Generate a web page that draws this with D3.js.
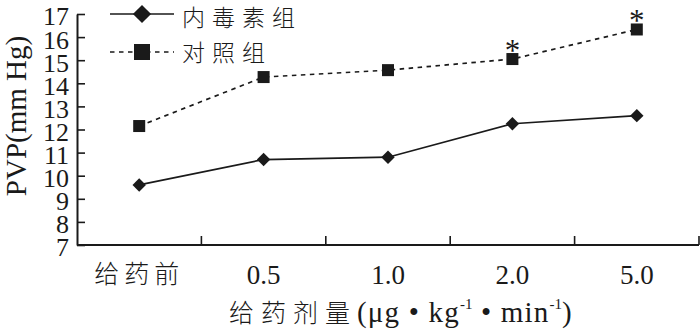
<!DOCTYPE html>
<html><head><meta charset="utf-8">
<script src="https://cdn.jsdelivr.net/npm/d3@7/dist/d3.min.js"></script>
<style>
html,body{margin:0;padding:0;background:#fff;}
svg{display:block;}
text{fill:#1a1a1a;}
</style></head>
<body>
<svg id="chart" width="700" height="330"></svg>
<script>
const categories = ["给药前", "0.5", "1.0", "2.0", "5.0"];
const endotoxinValues = [9.6, 10.7, 10.8, 12.25, 12.6];
const controlValues = [12.15, 14.27, 14.57, 15.05, 16.33];
const controlSignificant = [false, false, false, true, true];
const seriesNames = ["内毒素组", "对照组"];
const yTicks = [7, 8, 9, 10, 11, 12, 13, 14, 15, 16, 17];
const yTitle = "PVP(mm Hg)";

const SERIF = "'Liberation Serif','Times New Roman','Noto Sans CJK SC',serif";
const CJK = "'Noto Sans CJK SC','Liberation Serif',serif";
const ink = "#1a1a1a";

const svg = d3.select("#chart");
const x = d3.scaleBand().domain(categories).range([77, 699]).padding(0);
const y = d3.scaleLinear().domain([7, 17]).range([245, 14]);

// Y axis (inward ticks)
const yAx = svg.append("g").attr("transform", "translate(77,0)")
  .call(d3.axisLeft(y).tickValues(yTicks).tickSizeInner(-8).tickSizeOuter(0).tickPadding(8).tickFormat(d3.format("d")));
yAx.select(".domain").attr("stroke", ink).attr("stroke-width", 2);
yAx.selectAll(".tick line").attr("stroke", ink).attr("stroke-width", 1.6);
yAx.selectAll(".tick text").attr("font-family", SERIF).attr("font-size", 26).attr("fill", ink).attr("dy", "0.42em");

// X axis: labels at band centres, ticks at band boundaries
const xAx = svg.append("g").attr("transform", "translate(0,245)")
  .call(d3.axisBottom(x).tickSize(0).tickPadding(20));
xAx.select(".domain").attr("stroke", ink).attr("stroke-width", 2).attr("d", `M${x.range()[0]},0H${x.range()[1]}`);
xAx.selectAll(".tick text").attr("fill", ink)
  .attr("font-size", d => /[0-9]/.test(d) ? 27 : 25)
  .attr("font-weight", d => /[0-9]/.test(d) ? 400 : 300)
  .attr("font-family", d => /[0-9]/.test(d) ? SERIF : CJK)
  .attr("letter-spacing", d => /[0-9]/.test(d) ? 0 : 5);
const bounds = categories.slice(1).map(c => x(c)).concat([x.range()[1]]);
xAx.selectAll(".bound").data(bounds).enter().append("line").attr("class", "bound")
  .attr("x1", d => d).attr("x2", d => d).attr("y1", 0).attr("y2", -9)
  .attr("stroke", ink).attr("stroke-width", 1.6);

// X title
const xt = svg.append("text").attr("x", 229).attr("y", 322).attr("font-size", 29).attr("letter-spacing", 1.2);
xt.append("tspan").attr("font-family", CJK).attr("font-weight", 300).attr("font-size", 25).attr("letter-spacing", 7).text("给药剂量");
xt.append("tspan").attr("font-family", SERIF).text("(μg • kg");
xt.append("tspan").attr("font-family", SERIF).attr("font-size", 15).attr("letter-spacing", 0).attr("dy", -13).text("-1");
xt.append("tspan").attr("font-family", SERIF).attr("dy", 13).text(" • min");
xt.append("tspan").attr("font-family", SERIF).attr("font-size", 15).attr("letter-spacing", 0).attr("dy", -13).text("-1");
xt.append("tspan").attr("font-family", SERIF).attr("dy", 13).text(")");

// Y title
svg.append("text").attr("transform", "translate(26,116) rotate(-90)")
  .attr("text-anchor", "middle").attr("font-family", SERIF).attr("font-size", 29).text(yTitle);

const cx = c => x(c) + x.bandwidth() / 2;
const lineGen = vals => d3.line().x((d, i) => cx(categories[i])).y(d => y(d))(vals);

// Control (dashed, squares)
svg.append("path").attr("d", lineGen(controlValues)).attr("fill", "none")
  .attr("stroke", ink).attr("stroke-width", 1.7).attr("stroke-dasharray", "4.5,4.5");
svg.selectAll(".sq").data(controlValues).enter().append("rect").attr("class", "sq")
  .attr("x", (d, i) => cx(categories[i]) - 6).attr("y", d => y(d) - 6)
  .attr("width", 12).attr("height", 12).attr("fill", ink);
const starData = controlValues.map((v, i) => ({v, c: categories[i], s: controlSignificant[i]})).filter(d => d.s);
svg.selectAll(".star").data(starData)
  .enter().append("text").attr("class", "star")
  .attr("x", d => cx(d.c)).attr("y", d => y(d.v) + 2).attr("text-anchor", "middle")
  .attr("font-family", SERIF).attr("font-size", 31).text("*");

// Endotoxin (solid, diamonds)
svg.append("path").attr("d", lineGen(endotoxinValues)).attr("fill", "none")
  .attr("stroke", ink).attr("stroke-width", 1.7);
const diamond = d3.symbol().type(d3.symbolDiamond2).size(115);
svg.selectAll(".dm").data(endotoxinValues).enter().append("path").attr("class", "dm")
  .attr("d", diamond).attr("transform", (d, i) => `translate(${cx(categories[i])},${y(d)})`).attr("fill", ink);

// Legend
const lg = svg.append("g");
lg.append("line").attr("x1", 110).attr("x2", 174).attr("y1", 14).attr("y2", 14).attr("stroke", ink).attr("stroke-width", 1.7);
lg.append("path").attr("d", d3.symbol().type(d3.symbolDiamond2).size(210)).attr("transform", "translate(142,14)").attr("fill", ink);
lg.append("text").attr("x", 182).attr("y", 26).attr("font-family", CJK).attr("font-weight", 300).attr("font-size", 23).attr("letter-spacing", 7).text(seriesNames[0]);
lg.append("line").attr("x1", 110).attr("x2", 174).attr("y1", 52).attr("y2", 52).attr("stroke", ink).attr("stroke-width", 1.7).attr("stroke-dasharray", "4.5,4.5");
lg.append("rect").attr("x", 134).attr("y", 44).attr("width", 16).attr("height", 16).attr("fill", ink);
lg.append("text").attr("x", 182).attr("y", 61).attr("font-family", CJK).attr("font-weight", 300).attr("font-size", 23).attr("letter-spacing", 7).text(seriesNames[1]);
</script>
</body></html>
